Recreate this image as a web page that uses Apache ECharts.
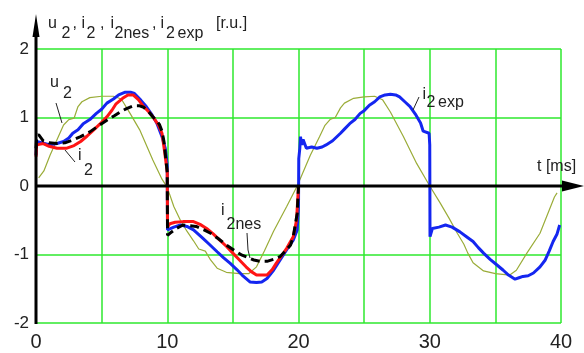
<!DOCTYPE html>
<html>
<head>
<meta charset="utf-8">
<script src="https://cdn.jsdelivr.net/npm/echarts@6/dist/echarts.min.js"></script>
<style>
  html, body { margin: 0; padding: 0; background: #fff; }
  #chart { width: 584px; height: 353px; }
</style>
</head>
<body>
<div id="chart"></div>
<script>
// tick labels
const xTicks = [0, 10, 20, 30, 40]
const yTicks = [-2, -1, 0, 1, 2]

// u2 - supply voltage (thin olive)
const u2T = [0.2, 0.6, 1.07, 1.7, 2.1, 2.5, 2.9, 3.2, 3.5, 4.1, 5.0, 5.9, 6.5, 7.2, 7.9, 8.9, 9.6, 10.0, 10.5, 11.0, 11.5, 12.0, 12.4, 12.9, 13.3, 13.8, 14.5, 15.5, 16.2, 16.8, 17.4, 18.1, 19.1, 19.9,
  20.9, 21.6, 22.0, 22.4, 22.8, 23.2, 23.5, 24.2, 25.0, 25.8, 26.4, 27.0, 28.0, 29.0, 30.0, 30.8, 31.5, 32.1, 32.6, 32.9, 33.3, 34.1, 35.0, 36.1, 36.6, 37.4, 38.4, 39.5, 39.7]
const u2Y = [0.12, 0.22, 0.45, 0.72, 0.89, 0.97, 0.99, 1.16, 1.23, 1.29, 1.31, 1.31, 1.27, 1.05, 0.82, 0.38, 0.1, -0.02, -0.3, -0.5, -0.66, -0.8, -0.92, -0.95, -1.08, -1.2, -1.26, -1.28, -1.28, -1.18, -0.95, -0.66, -0.3, 0.0,
  0.45, 0.72, 0.88, 0.97, 1.0, 1.14, 1.21, 1.28, 1.3, 1.31, 1.26, 1.08, 0.72, 0.33, 0.0, -0.25, -0.48, -0.69, -0.85, -0.98, -1.12, -1.24, -1.28, -1.3, -1.23, -0.98, -0.69, -0.16, -0.1]

// i2exp - measured current (blue)
const i2expT = [0, 0.05, 0.5, 1.07, 1.6, 2.1, 2.5, 2.8, 3.2, 3.6, 4.1, 4.6, 5.0, 5.4, 5.9, 6.3, 6.8, 7.2, 7.5, 8.0, 8.4, 8.8, 9.2, 9.6, 9.85, 10.0,
  10.02, 10.5, 11.0, 11.5, 12.0, 12.7, 13.2, 13.8, 14.3, 14.8, 15.3, 15.7, 16.3, 16.8, 17.2, 17.6, 18.1, 18.6, 19.1, 19.6, 19.9, 20.0,
  20.02, 20.1, 20.15, 20.25, 20.35, 20.6, 21.0, 21.4, 21.8, 22.1, 22.6, 23.2, 23.5, 23.9, 24.3, 24.7, 25.0, 25.4, 25.8, 26.2, 26.6, 27.0, 27.4, 27.7, 28.1, 28.5, 28.9, 29.3, 29.5, 29.95, 30.0,
  30.02, 30.2, 30.7, 31.2, 31.7, 32.3, 32.8, 33.3, 33.7, 34.1, 34.6, 35.1, 35.6, 36.0, 36.5, 36.8, 37.1, 37.5, 37.9, 38.4, 38.8, 39.1, 39.4, 39.7, 39.9]
const i2expY = [0.45, 0.65, 0.63, 0.6, 0.62, 0.65, 0.7, 0.77, 0.82, 0.91, 0.97, 1.06, 1.12, 1.21, 1.27, 1.33, 1.37, 1.37, 1.35, 1.25, 1.16, 1.05, 0.92, 0.72, 0.55, 0.3,
  -0.64, -0.6, -0.57, -0.59, -0.64, -0.76, -0.85, -0.96, -1.05, -1.13, -1.22, -1.3, -1.4, -1.41, -1.4, -1.35, -1.23, -1.08, -0.93, -0.79, -0.64, -0.3,
  0.4, 0.55, 0.72, 0.6, 0.68, 0.55, 0.57, 0.55, 0.57, 0.6, 0.66, 0.77, 0.83, 0.91, 0.97, 1.06, 1.1, 1.18, 1.23, 1.3, 1.33, 1.34, 1.33, 1.3, 1.23, 1.16, 1.05, 0.92, 0.8, 0.77, 0.6,
  -0.74, -0.62, -0.6, -0.57, -0.6, -0.67, -0.74, -0.81, -0.9, -0.98, -1.07, -1.15, -1.23, -1.3, -1.36, -1.34, -1.32, -1.31, -1.27, -1.18, -1.08, -0.95, -0.81, -0.7, -0.57]

// i2 - simulated current (red)
const i2T = [0, 0.05, 0.55, 1.0, 1.6, 2.3, 2.9, 3.4, 3.9, 4.4, 4.9, 5.4, 5.8, 6.1, 6.6, 7.0, 7.4, 7.8, 8.2, 8.6, 8.9, 9.3, 9.6, 9.8, 10.0,
  10.02, 10.2, 10.6, 11.2, 12.0, 12.5, 13.0, 13.5, 14.0, 14.5, 15.0, 15.5, 16.0, 16.4, 16.8, 17.6, 18.0, 18.3, 18.7, 19.1, 19.6, 19.85, 20.0]
const i2Y = [0.43, 0.6, 0.62, 0.58, 0.55, 0.55, 0.59, 0.65, 0.73, 0.82, 0.91, 1.01, 1.11, 1.2, 1.28, 1.33, 1.33, 1.26, 1.16, 1.08, 1.01, 0.9, 0.77, 0.5, 0.2,
  -0.6, -0.55, -0.53, -0.52, -0.52, -0.56, -0.62, -0.7, -0.79, -0.88, -0.98, -1.08, -1.18, -1.25, -1.3, -1.3, -1.22, -1.13, -1.02, -0.91, -0.74, -0.5, 0]

// i2nes - simulated current, nonlinear (black dashed)
const i2nesT = [0, 0.05, 0.2, 0.55, 1.0, 1.6, 2.2, 2.8, 3.4, 4.1, 4.7, 5.4, 6.0, 6.4, 6.9, 7.4, 7.9, 8.2, 8.6, 8.9, 9.2, 9.4, 9.6, 9.75, 10.0,
  10.02, 10.2, 10.7, 11.2, 12.2, 12.8, 13.3, 13.9, 14.5, 15.1, 15.7, 16.2, 16.6, 17.1, 17.6, 18.1, 18.6, 19.0, 19.4, 19.6, 19.9, 20.0]
const i2nesY = [0.55, 0.72, 0.75, 0.66, 0.63, 0.62, 0.63, 0.67, 0.72, 0.79, 0.87, 0.96, 1.03, 1.08, 1.13, 1.17, 1.17, 1.15, 1.08, 1.01, 0.95, 0.9, 0.8, 0.65, 0.2,
  -0.72, -0.69, -0.62, -0.57, -0.59, -0.64, -0.69, -0.77, -0.86, -0.94, -1.01, -1.05, -1.08, -1.1, -1.1, -1.07, -1.03, -0.95, -0.86, -0.74, -0.4, 0]

const zip = (t, y) => t.map((v, i) => [v, y[i]])

const font = "'Liberation Sans', Arial, sans-serif"
const txtColor = '#222'
const gridColor = '#2ee82e'

let chart = echarts.init(document.getElementById('chart'))
chart.setOption({
  animation: false,
  grid: {
    left: 36,
    right: 23,
    top: 49,
    bottom: 30
  },
  xAxis: {
    type: 'value',
    min: 0,
    max: 40,
    interval: 5,
    axisLine: { show: false },
    axisTick: { show: false },
    axisLabel: {
      margin: 9,
      fontSize: 20,
      fontFamily: font,
      color: txtColor,
      formatter: v => (xTicks.includes(v) ? String(v) : '')
    },
    splitLine: {
      lineStyle: { color: gridColor, width: 1.5 }
    }
  },
  yAxis: {
    type: 'value',
    min: -2,
    max: 2,
    interval: 1,
    axisLine: { show: false },
    axisTick: { show: false },
    axisLabel: {
      margin: 7,
      fontSize: 17,
      fontFamily: font,
      color: txtColor,
      formatter: v => (yTicks.includes(v) ? String(v) : '')
    },
    splitLine: {
      lineStyle: { color: gridColor, width: 1.5 }
    }
  },
  series: [
    {
      name: 'u2',
      type: 'line',
      data: zip(u2T, u2Y),
      showSymbol: false,
      lineStyle: { color: '#9aac38', width: 1.2 },
      z: 2
    },
    {
      name: 'i2exp',
      type: 'line',
      data: zip(i2expT, i2expY),
      showSymbol: false,
      lineStyle: { color: '#1426f0', width: 3 },
      z: 3
    },
    {
      name: 'i2',
      type: 'line',
      data: zip(i2T, i2Y),
      showSymbol: false,
      lineStyle: { color: '#ff1414', width: 3 },
      z: 4
    },
    {
      name: 'i2nes',
      type: 'line',
      data: zip(i2nesT, i2nesY),
      showSymbol: false,
      lineStyle: { color: '#000', width: 3, type: [9, 5] },
      z: 5
    }
  ]
})

// axes with arrows, title and curve labels (subscripts as separate pieces)
const o = chart.convertToPixel({ gridIndex: 0 }, [0, 0])
const b = chart.convertToPixel({ gridIndex: 0 }, [0, -2])
const txt = (x, y, str) => ({
  type: 'text',
  x: x,
  y: y,
  z: 20,
  style: { text: str, font: '16px ' + font, fill: txtColor, align: 'left', verticalAlign: 'middle' }
})
const leader = (pts) => ({
  type: 'polyline',
  z: 20,
  shape: { points: pts },
  style: { stroke: '#222', lineWidth: 1, fill: null }
})
chart.setOption({
  graphic: [
    {
      type: 'line',
      z: 10,
      shape: { x1: o[0], y1: b[1] + 1, x2: o[0], y2: 30 },
      style: { stroke: '#000', lineWidth: 3 }
    },
    {
      type: 'polygon',
      z: 10,
      shape: { points: [[o[0], 14], [o[0] - 3.5, 37], [o[0] + 3.5, 37]] },
      style: { fill: '#000' }
    },
    {
      type: 'line',
      z: 10,
      shape: { x1: o[0], y1: o[1], x2: 566, y2: o[1] },
      style: { stroke: '#000', lineWidth: 3 }
    },
    {
      type: 'polygon',
      z: 10,
      shape: { points: [[584, o[1]], [562, o[1] - 5.5], [562, o[1] + 5.5]] },
      style: { fill: '#000' }
    },
    // title
    txt(48, 23.5, 'u'), txt(61.5, 33.5, '2'), txt(72.5, 23.5, ','),
    txt(81.5, 23.5, 'i'), txt(86.5, 33.5, '2'), txt(100, 23.5, ','),
    txt(110.5, 23.5, 'i'), txt(114.5, 33.5, '2nes'), txt(152, 23.5, ','),
    txt(160.5, 23.5, 'i'), txt(166, 33.5, '2'), txt(177.5, 33.5, 'exp'),
    txt(216, 23.5, '[r.u.]'),
    // curve labels
    txt(50, 82.5, 'u'), txt(63, 93.5, '2'),
    txt(78, 156, 'i'), txt(84, 171, '2'),
    txt(221, 211, 'i'), txt(226.5, 224.5, '2nes'),
    txt(422.5, 94.5, 'i'), txt(426.5, 102.5, '2'), txt(438, 102.5, 'exp'),
    txt(537, 166.5, 't [ms]'),
    leader([[56, 103], [62, 123]]),
    leader([[65, 150], [75, 162]]),
    leader([[247, 233], [248, 250], [250, 258]]),
    leader([[419, 97], [413, 110]])
  ]
})
</script>
</body>
</html>
